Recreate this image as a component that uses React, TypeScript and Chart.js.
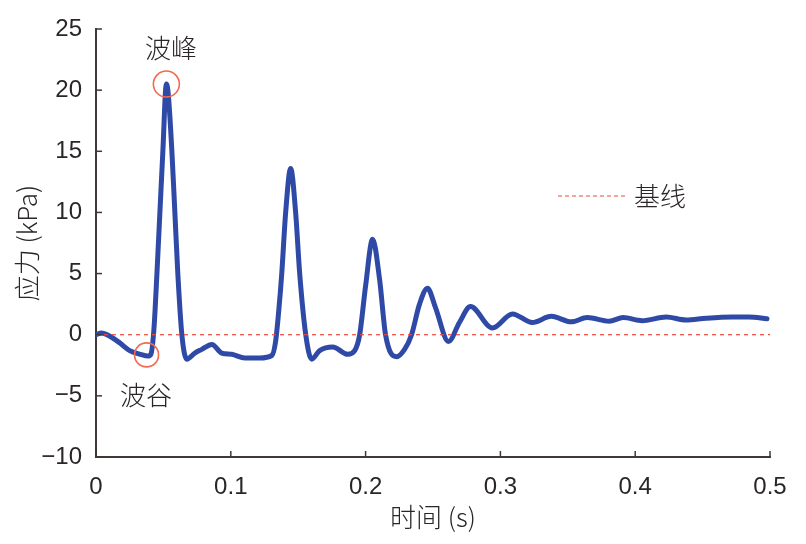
import React, { useEffect, useRef } from "react";
import { Chart, registerables } from "chart.js";

Chart.register(...registerables);

// time (s)
const times = [
  0, 0.004, 0.010, 0.018, 0.025, 0.033, 0.0385, 0.0407, 0.043, 0.0452, 0.0474, 0.0496, 0.0522,
  0.0535, 0.0563, 0.0585, 0.0607, 0.0637, 0.0674, 0.0733, 0.0785, 0.0859, 0.0933, 0.1007,
  0.1104, 0.1215, 0.1304, 0.1333, 0.1356, 0.1378, 0.1407, 0.1444, 0.1481, 0.1511, 0.1556,
  0.16, 0.1659, 0.1756, 0.1867, 0.1919, 0.1956, 0.2, 0.2052, 0.2104, 0.2148, 0.223, 0.2289,
  0.2341, 0.24, 0.2459, 0.2519, 0.2615, 0.2696, 0.2778, 0.2941, 0.3089, 0.3237, 0.3378,
  0.3526, 0.3644, 0.3807, 0.3911, 0.4052, 0.423, 0.4378, 0.4526, 0.4719, 0.4844, 0.4978,
];
// stress (kPa)
const stress = [
  0, 0.15, -0.1, -0.7, -1.3, -1.6, -1.75, -1.6, 0.5, 5, 10, 15, 20.5,
  19.8, 15, 10, 5, 0, -2.0, -1.5, -1.2, -0.8, -1.5, -1.6,
  -1.9, -1.9, -1.7, -0.5, 2, 5, 10, 13.6, 10, 5, 0,
  -2.0, -1.3, -1.0, -1.6, -1.3, 0, 4, 7.8, 4.5, 0, -1.8, -1.2,
  0, 2.5, 3.8, 2.2, -0.55, 1.0, 2.3, 0.55, 1.7, 1.0, 1.5,
  1.05, 1.4, 1.1, 1.4, 1.15, 1.45, 1.2, 1.35, 1.45, 1.45, 1.3,
];
const baselineX = [0, 0.5];
const baselineY = [0, 0];

const xTickLabels = ["0", "0.1", "0.2", "0.3", "0.4", "0.5"];
const yTickLabels = ["−10", "−5", "0", "5", "10", "15", "20", "25"];

const xTitle = "时间 (s)";
const yTitle = "应力 (kPa)";
const legendLabel = "基线";
const peakLabel = "波峰";
const valleyLabel = "波谷";
const peakPoint = { x: 0.0522, y: 20.5 };
const valleyPoint = { x: 0.0375, y: -1.65 };
const peakText = { x: 0.0556, y: 23.4 };
const valleyText = { x: 0.0370, y: -4.9 };

const FONT = "'Noto Sans CJK SC', 'Noto Sans', sans-serif";
const TICK_FONT = "'Liberation Sans', Arial, sans-serif";
const AXIS = "#3f3836";
const TEXT = "#2a2627";
const RED = "#ee4b3e";
const CIRCLE = "#f26a4f";
const BLUE = "#2f4aa6";

const decorPlugin = {
  id: "decor",
  afterDraw(chart: any) {
    const ctx = chart.ctx;
    const xs = chart.scales.x;
    const ys = chart.scales.y;
    ctx.save();
    // inward ticks
    ctx.strokeStyle = AXIS;
    ctx.lineWidth = 1.5;
    xs.ticks.forEach((t: any) => {
      const px = xs.getPixelForValue(t.value);
      ctx.beginPath();
      ctx.moveTo(px, ys.bottom);
      ctx.lineTo(px, ys.bottom - 6);
      ctx.stroke();
    });
    ys.ticks.forEach((t: any) => {
      const py = ys.getPixelForValue(t.value);
      ctx.beginPath();
      ctx.moveTo(xs.left, py);
      ctx.lineTo(xs.left + 6, py);
      ctx.stroke();
    });
    // circles
    ctx.strokeStyle = CIRCLE;
    ctx.lineWidth = 1.6;
    [peakPoint, valleyPoint].forEach((p, i) => {
      ctx.beginPath();
      ctx.arc(xs.getPixelForValue(p.x), ys.getPixelForValue(p.y), i === 0 ? 13 : 12, 0, Math.PI * 2);
      ctx.stroke();
    });
    // labels
    ctx.fillStyle = TEXT;
    ctx.font = `300 26px ${FONT}`;
    ctx.textAlign = "center";
    ctx.textBaseline = "middle";
    ctx.fillText(peakLabel, xs.getPixelForValue(peakText.x), ys.getPixelForValue(peakText.y));
    ctx.fillText(valleyLabel, xs.getPixelForValue(valleyText.x), ys.getPixelForValue(valleyText.y));
    // legend
    const lx = chart.chartArea.left + 462;
    const ly = chart.chartArea.top + 167;
    ctx.strokeStyle = RED;
    ctx.lineWidth = 1.2;
    ctx.setLineDash([4, 3]);
    ctx.beginPath();
    ctx.moveTo(lx, ly);
    ctx.lineTo(lx + 68, ly);
    ctx.stroke();
    ctx.setLineDash([]);
    ctx.textAlign = "left";
    ctx.fillText(legendLabel, lx + 76, ly);
    ctx.restore();
  },
};

export default function App() {
  const ref = useRef<HTMLCanvasElement>(null);
  useEffect(() => {
    document.body.style.margin = "0";
    const chart = new Chart(ref.current as HTMLCanvasElement, {
      type: "line",
      data: {
        datasets: [
          {
            data: baselineX.map((x, i) => ({ x, y: baselineY[i] })),
            borderColor: RED,
            borderWidth: 1.2,
            borderDash: [4, 4],
            pointRadius: 0,
            fill: false,
          },
          {
            data: times.map((x, i) => ({ x, y: stress[i] })),
            borderColor: BLUE,
            borderWidth: 5,
            pointRadius: 0,
            cubicInterpolationMode: "monotone",
            fill: false,
            borderCapStyle: "round",
            borderJoinStyle: "round",
          },
        ],
      },
      options: {
        animation: false,
        responsive: false,
        devicePixelRatio: 1,
        layout: { padding: { left: 0, right: 36, top: 29, bottom: 0 } },
        plugins: { legend: { display: false }, tooltip: { enabled: false } },
        scales: {
          x: {
            type: "linear",
            min: 0,
            max: 0.5,
            grid: { display: false },
            border: { display: true, color: AXIS, width: 2 },
            ticks: {
              stepSize: 0.1,
              padding: 8,
              color: TEXT,
              font: { family: TICK_FONT, size: 24 },
              maxRotation: 0,
              callback: (_v: any, i: number) => xTickLabels[i],
            },
            title: {
              display: true,
              text: xTitle,
              color: TEXT,
              font: { family: FONT, size: 26, weight: "300" },
              padding: { top: 0, bottom: 11 },
            },
            afterFit: (s: any) => {
              s.height = 87;
            },
          },
          y: {
            type: "linear",
            min: -10,
            max: 25,
            grid: { display: false },
            border: { display: true, color: AXIS, width: 2 },
            ticks: {
              stepSize: 5,
              padding: 6,
              color: TEXT,
              font: { family: TICK_FONT, size: 24 },
              callback: (_v: any, i: number) => yTickLabels[i],
            },
            title: {
              display: true,
              text: yTitle,
              color: TEXT,
              font: { family: FONT, size: 26, weight: "300" },
              padding: { top: 12, bottom: 0 },
            },
            afterFit: (s: any) => {
              s.width = 96;
            },
          },
        },
      },
      plugins: [decorPlugin],
    } as any);
    return () => chart.destroy();
  }, []);
  return (
    <div style={{ position: "absolute", left: 0, top: 0, width: 806, height: 544, background: "#fff" }}>
      <canvas ref={ref} width={806} height={544} />
    </div>
  );
}
